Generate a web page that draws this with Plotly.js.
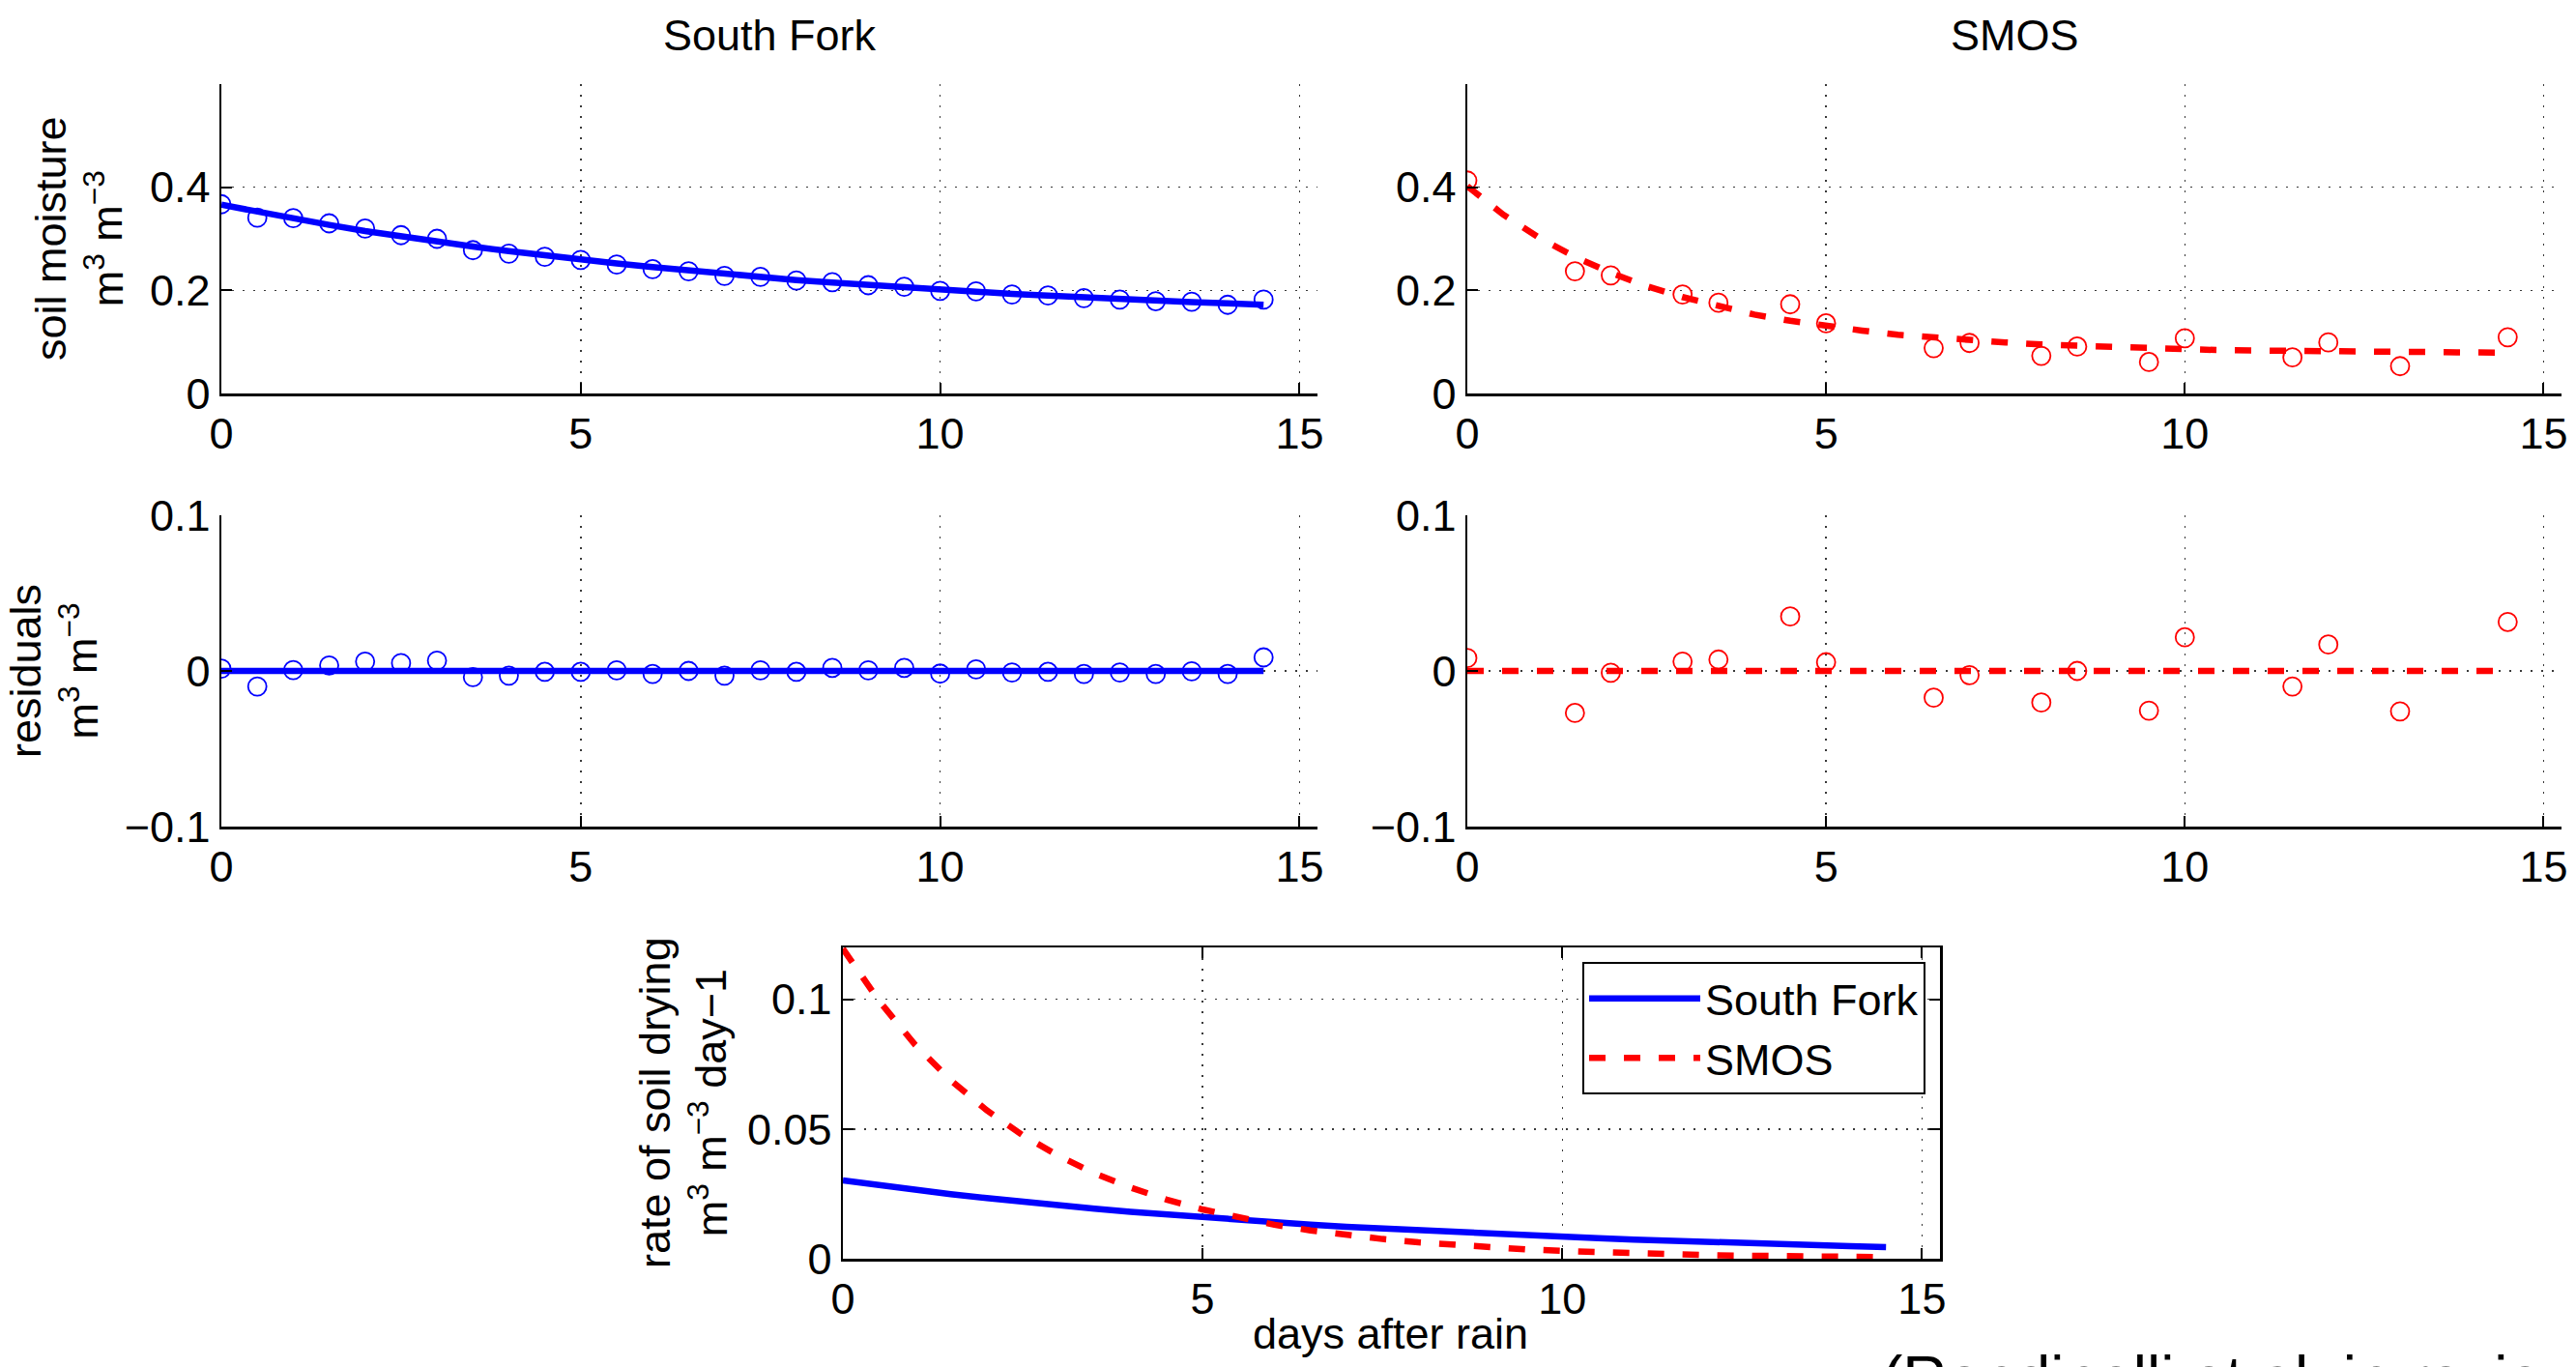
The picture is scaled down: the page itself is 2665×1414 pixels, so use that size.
<!DOCTYPE html>
<html>
<head>
<meta charset="utf-8">
<script src="https://cdn.plot.ly/plotly-3.0.1.min.js"></script>
<style>
  html, body { margin: 0; padding: 0; background: #ffffff; overflow: hidden; }
  #chart { width: 2665px; height: 1414px; }
</style>
</head>
<body>
<div id="chart"></div>
<script>
// ---------------- data ----------------
const days = [0, 0.5, 1, 1.5, 2, 2.5, 3, 3.5, 4, 4.5, 5, 5.5, 6, 6.5, 7, 7.5, 8, 8.5, 9, 9.5, 10, 10.5, 11, 11.5, 12, 12.5, 13, 13.5, 14, 14.5];

// South Fork in-situ soil moisture (m3 m-3)
const sfObs = [0.367, 0.341, 0.340, 0.330, 0.320, 0.307, 0.300, 0.278, 0.271, 0.265, 0.259, 0.250, 0.241, 0.237, 0.228, 0.226, 0.219, 0.216, 0.210, 0.207, 0.199, 0.198, 0.192, 0.190, 0.185, 0.182, 0.179, 0.178, 0.172, 0.182];
const sfFit = [0.366, 0.352, 0.339, 0.327, 0.315, 0.304, 0.294, 0.285, 0.276, 0.267, 0.259, 0.252, 0.245, 0.238, 0.232, 0.226, 0.220, 0.215, 0.210, 0.205, 0.201, 0.197, 0.193, 0.190, 0.186, 0.183, 0.180, 0.177, 0.175, 0.172];
const sfResid = [0.0015, -0.010, 0.0005, 0.0035, 0.006, 0.005, 0.0066, -0.004, -0.003, -0.0006, -0.0006, 0.0004, -0.002, 0.0, -0.003, 0.0004, -0.0006, 0.002, 0.0004, 0.002, -0.0017, 0.001, -0.001, -0.0006, -0.002, -0.001, -0.002, -0.0002, -0.002, 0.0087];

// SMOS retrievals
const smosDays = [0, 1.5, 2, 3, 3.5, 4.5, 5, 6.5, 7, 8, 8.5, 9.5, 10, 11.5, 12, 13, 14.5];
const smosObs = [0.413, 0.237, 0.229, 0.192, 0.176, 0.173, 0.136, 0.088, 0.098, 0.073, 0.091, 0.061, 0.107, 0.070, 0.099, 0.053, 0.109];
const smosResid = [0.0083, -0.027, -0.0012, 0.006, 0.0073, 0.035, 0.0056, -0.0172, -0.0027, -0.0203, 0.0, -0.0255, 0.0216, -0.010, 0.017, -0.026, 0.0315];
const smosFit = [0.402, 0.347, 0.302, 0.265, 0.234, 0.208, 0.187, 0.169, 0.153, 0.141, 0.130, 0.122, 0.114, 0.108, 0.103, 0.099, 0.095, 0.092, 0.090, 0.088, 0.086, 0.084, 0.083, 0.082, 0.081, 0.081, 0.080, 0.080, 0.079, 0.079];

// residual reference line
const zeroX = [0, 14.5];
const zeroY = [0, 0];

// rate of soil drying (m3 m-3 day-1)
const rateSF = [0.0302, 0.0283, 0.0266, 0.0249, 0.0234, 0.0219, 0.0206, 0.0193, 0.0181, 0.0170, 0.0159, 0.0149, 0.0140, 0.0131, 0.0123, 0.0116, 0.0108, 0.0102, 0.0095, 0.0089, 0.0084, 0.0079, 0.0074, 0.0069, 0.0065, 0.0061, 0.0057, 0.0053, 0.0048, 0.0045];
const rateSMOS = [0.1195, 0.0995, 0.0826, 0.0688, 0.0572, 0.0476, 0.0396, 0.0329, 0.0274, 0.0228, 0.0190, 0.0158, 0.0131, 0.0109, 0.0091, 0.0076, 0.0063, 0.0052, 0.0044, 0.0036, 0.0030, 0.0025, 0.0021, 0.0017, 0.0014, 0.0012, 0.0010, 0.0008, 0.0007, 0.0006];

// tick labels
const xTicks = [0, 5, 10, 15];
const smTicks = [0, 0.2, 0.4];
const resTicks = [-0.1, 0, 0.1];
const rateTicks = [0, 0.05, 0.1];

const seriesNames = ['South Fork', 'SMOS'];

// ---------------- styles ----------------
const BLUE = 'rgb(0,0,255)';
const RED = 'rgb(255,0,0)';
const DASH = '17px,19px';
const LW = 6.5;
const MS = 19;

const mk = (color) => ({ symbol: 'circle-open', size: MS, color: color, line: { color: color, width: 1.8 } });

const traces = [
  // South Fork soil moisture
  { x: days, y: sfObs, xaxis: 'x', yaxis: 'y', mode: 'markers', marker: mk(BLUE), showlegend: false, hoverinfo: 'skip' },
  { x: days, y: sfFit, xaxis: 'x', yaxis: 'y', mode: 'lines', line: { color: BLUE, width: LW }, showlegend: false, hoverinfo: 'skip' },
  // SMOS soil moisture
  { x: smosDays, y: smosObs, xaxis: 'x2', yaxis: 'y2', mode: 'markers', marker: mk(RED), showlegend: false, hoverinfo: 'skip' },
  { x: days, y: smosFit, xaxis: 'x2', yaxis: 'y2', mode: 'lines', line: { color: RED, width: LW, dash: DASH }, showlegend: false, hoverinfo: 'skip' },
  // South Fork residuals
  { x: days, y: sfResid, xaxis: 'x3', yaxis: 'y3', mode: 'markers', marker: mk(BLUE), showlegend: false, hoverinfo: 'skip' },
  { x: zeroX, y: zeroY, xaxis: 'x3', yaxis: 'y3', mode: 'lines', line: { color: BLUE, width: LW }, showlegend: false, hoverinfo: 'skip' },
  // SMOS residuals
  { x: smosDays, y: smosResid, xaxis: 'x4', yaxis: 'y4', mode: 'markers', marker: mk(RED), showlegend: false, hoverinfo: 'skip' },
  { x: zeroX, y: zeroY, xaxis: 'x4', yaxis: 'y4', mode: 'lines', line: { color: RED, width: LW, dash: DASH }, showlegend: false, hoverinfo: 'skip' },
  // rate of drying
  { x: days, y: rateSF, xaxis: 'x5', yaxis: 'y5', mode: 'lines', name: seriesNames[0], line: { color: BLUE, width: LW }, hoverinfo: 'skip' },
  { x: days, y: rateSMOS, xaxis: 'x5', yaxis: 'y5', mode: 'lines', name: seriesNames[1], line: { color: RED, width: LW, dash: DASH }, hoverinfo: 'skip' }
];

const W = 2665, H = 1414;
const px = (v) => v / W;
const py = (v) => 1 - v / H;

const axBase = {
  showline: true, linecolor: '#000', linewidth: 2.5,
  ticks: 'inside', ticklen: 11, tickwidth: 2, tickcolor: '#000',
  showgrid: true, gridcolor: '#3a3a3a', gridwidth: 1.5, griddash: '2px,9px',
  zeroline: false, fixedrange: true, automargin: false,
  tickfont: { size: 45, color: '#000' }
};
const xa = (dom, anchor, extra) => Object.assign({}, axBase, { domain: dom, anchor: anchor, range: [0, 15.25], tickmode: 'array', tickvals: xTicks }, extra || {});
const ya = (dom, anchor, range, ticks, extra) => Object.assign({}, axBase, { domain: dom, anchor: anchor, range: range, tickmode: 'array', tickvals: ticks }, extra || {});

const colL = [px(229), px(1363)];
const colR = [px(1518), px(2650)];
const colB = [px(872), px(2007)];
const rowTop = [py(407), py(87)];
const rowRes = [py(855), py(533)];
const rowBot = [py(1302), py(980)];

const FONT = 'Liberation Sans, Arial, Helvetica, sans-serif';

const ann = (text, x, y, opts) => Object.assign({ text: text, x: x, y: y, xref: 'paper', yref: 'paper', showarrow: false, font: { size: 45, color: '#000', family: FONT } }, opts || {});

const layout = {
  width: W, height: H,
  margin: { l: 0, r: 0, t: 0, b: 0, pad: 0 },
  paper_bgcolor: '#fff', plot_bgcolor: '#fff',
  font: { family: FONT, size: 45, color: '#000' },
  showlegend: true,
  xaxis: xa(colL, 'y'),
  yaxis: ya(rowTop, 'x', [0, 0.6], smTicks),
  xaxis2: xa(colR, 'y2'),
  yaxis2: ya(rowTop, 'x2', [0, 0.6], smTicks),
  xaxis3: xa(colL, 'y3'),
  yaxis3: ya(rowRes, 'x3', [-0.1, 0.1], resTicks),
  xaxis4: xa(colR, 'y4'),
  yaxis4: ya(rowRes, 'x4', [-0.1, 0.1], resTicks),
  xaxis5: xa(colB, 'y5', { mirror: 'ticks' }),
  yaxis5: ya(rowBot, 'x5', [0, 0.12], rateTicks, { mirror: 'ticks' }),
  legend: {
    x: px(1992), xanchor: 'right', y: py(995), yanchor: 'top',
    bgcolor: '#fff', bordercolor: '#000', borderwidth: 2,
    font: { size: 45, color: '#000', family: FONT },
    itemwidth: 115, tracegroupgap: 0
  },
  annotations: [
    ann(seriesNames[0], px(796), py(9), { xanchor: 'center', yanchor: 'top' }),
    ann(seriesNames[1], px(2084), py(9), { xanchor: 'center', yanchor: 'top' }),
    ann('soil moisture<br>m<sup>3</sup> m<sup>−3</sup>', px(82), py(247), { xanchor: 'center', yanchor: 'middle', textangle: -90 }),
    ann('residuals<br>m<sup>3</sup> m<sup>−3</sup>', px(56), py(694), { xanchor: 'center', yanchor: 'middle', textangle: -90 }),
    ann('rate of soil drying<br>m<sup>3</sup> m<sup>−3</sup> day−1', px(707), py(1141), { xanchor: 'center', yanchor: 'middle', textangle: -90 }),
    ann('days after rain', px(1438), py(1379), { xanchor: 'center', yanchor: 'middle' }),
    ann('(Rondinelli et al. in review)', px(1945), py(1388), { xanchor: 'left', yanchor: 'top', font: { size: 64, color: '#000', family: FONT } })
  ]
};

Plotly.newPlot('chart', traces, layout, { displayModeBar: false, staticPlot: true });
</script>
</body>
</html>
